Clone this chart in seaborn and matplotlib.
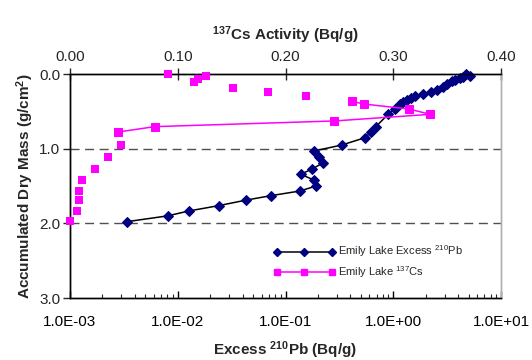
import numpy as np
import pandas as pd
import matplotlib
matplotlib.use("Agg")
import matplotlib.pyplot as plt
import seaborn as sns
from matplotlib.lines import Line2D
from matplotlib.ticker import FixedLocator, FuncFormatter, LogLocator, NullFormatter

# ---- data ----
pb_depth = [0.0, 0.027, 0.036, 0.058, 0.080, 0.098, 0.138, 0.174, 0.214, 0.241,
            0.268, 0.298, 0.317, 0.344, 0.370, 0.405, 0.464, 0.539, 0.706, 0.777,
            0.853, 0.951, 1.031, 1.107, 1.188, 1.272, 1.343, 1.42, 1.5, 1.567,
            1.63, 1.69, 1.763, 1.835, 1.90, 1.978]
pb_excess = [4.73, 5.15, 4.47, 4.16, 3.72, 3.51, 3.18, 2.92, 2.56, 2.23,
             1.875, 1.59, 1.45, 1.33, 1.24, 1.156, 1.03, 0.90, 0.687, 0.622,
             0.547, 0.333, 0.184, 0.205, 0.224, 0.177, 0.138, 0.184, 0.192, 0.136,
             0.0728, 0.0427, 0.024, 0.0126, 0.00807, 0.00336]

# 137Cs: connected run and isolated samples (gaps in the series)
cs_run_depth = [0.366, 0.402, 0.469, 0.54, 0.629, 0.705, 0.777]
cs_run_act = [0.262, 0.2726, 0.3146, 0.3344, 0.2453, 0.0786, 0.0445]
cs_iso_depth = [0.004, 0.027, 0.063, 0.107, 0.183, 0.237, 0.299,
                0.955, 1.11, 1.268, 1.415, 1.567, 1.69, 1.839, 1.973]
cs_iso_act = [0.0912, 0.1262, 0.1185, 0.1154, 0.151, 0.184, 0.219,
              0.047, 0.0356, 0.0229, 0.0111, 0.0087, 0.0081, 0.0062, 0.0]

pb_label = r"Emily Lake Excess $^{\mathregular{210}}$Pb"
cs_label = r"Emily Lake $^{\mathregular{137}}$Cs"

sns.set_style("white")
plt.rcParams['font.family'] = ['Liberation Sans', 'DejaVu Sans']
plt.rcParams['mathtext.default'] = 'regular'

NAVY = '#000080'
MAG = '#FF00FF'

fig = plt.figure(figsize=(5.32, 3.6), dpi=100)
ax = fig.add_axes([70/532, 1-298/360, 431/532, 224/360])
ax.set_xscale('log')
ax.set_xlim(1e-3, 10)
ax.set_ylim(3.0, 0.0)

# dashed reference lines
for yv in [1.0, 2.0]:
    ax.axhline(yv, color='#505050', lw=1.0, dashes=(6.5, 4), zorder=1)

pb_df = pd.DataFrame({'x': pb_excess, 'y': pb_depth})
sns.lineplot(data=pb_df, x='x', y='y', sort=False, estimator=None, ax=ax,
             color='black', lw=1.1, marker='D', markersize=5,
             markerfacecolor=NAVY, markeredgecolor=NAVY, legend=False,
             clip_on=False, zorder=4)

ax2 = ax.twiny()
ax2.set_xlim(0, 0.4)
cs_run = pd.DataFrame({'x': cs_run_act, 'y': cs_run_depth})
cs_iso = pd.DataFrame({'x': cs_iso_act, 'y': cs_iso_depth})
sns.lineplot(data=cs_run, x='x', y='y', sort=False, estimator=None, ax=ax2,
             color=MAG, lw=1.1, marker='s', markersize=5.2,
             markerfacecolor=MAG, markeredgecolor=MAG, legend=False,
             clip_on=False, zorder=3)
sns.scatterplot(data=cs_iso, x='x', y='y', ax=ax2, marker='s', s=27,
                color=MAG, edgecolor=MAG, linewidth=0, legend=False,
                clip_on=False, zorder=3)
ax2.set_ylim(3.0, 0.0)

# ---- axes styling ----
fs = 11
ax.set_yticks([0.0, 1.0, 2.0, 3.0])
ax.yaxis.set_major_formatter(FuncFormatter(lambda v, p: f"{v:.1f}"))
ax.xaxis.set_major_locator(FixedLocator([1e-3, 1e-2, 1e-1, 1e0, 1e1]))
ax.xaxis.set_major_formatter(FuncFormatter(lambda v, p: f"{v:.1E}"))
ax.xaxis.set_minor_locator(LogLocator(base=10, subs=np.arange(2, 10)))
ax.xaxis.set_minor_formatter(NullFormatter())
ax.tick_params(axis='x', which='major', direction='in', length=5, width=1,
               labelsize=fs, pad=12, colors='black', bottom=True, top=False)
ax.tick_params(axis='x', which='minor', direction='in', length=3, width=0.8,
               bottom=True, top=False)
ax.tick_params(axis='y', which='major', direction='out', length=5, width=1,
               labelsize=fs, pad=2, left=True)

ax2.set_xticks([0.0, 0.1, 0.2, 0.3, 0.4])
ax2.xaxis.set_major_formatter(FuncFormatter(lambda v, p: f"{v:.2f}"))
ax2.tick_params(axis='x', which='major', direction='inout', length=9, width=1,
                labelsize=fs, pad=3, top=True)
ax2.set_xlabel("")
ax2.set_ylabel("")

for a in (ax, ax2):
    for s in ['left', 'bottom', 'top']:
        a.spines[s].set_color('black')
        a.spines[s].set_linewidth(1.0)
    a.spines['right'].set_color('#b0b0b0')
    a.spines['right'].set_linewidth(1.0)

ax.set_xlabel(r"Excess $^{\mathregular{210}}$Pb (Bq/g)", fontsize=11, fontweight='bold', labelpad=8)
ax.set_ylabel(r"Accumulated Dry Mass (g/cm$^{\mathregular{2}}$)", fontsize=11, fontweight='bold', labelpad=2)
ax2.set_xlabel(r"$^{\mathregular{137}}$Cs Activity (Bq/g)", fontsize=11, fontweight='bold', labelpad=7)

# legend
h1 = Line2D([], [], color='black', lw=1.1, marker='D', markersize=4,
            markerfacecolor=NAVY, markeredgecolor=NAVY)
h2 = Line2D([], [], color=MAG, lw=1.1, marker='s', markersize=4,
            markerfacecolor=MAG, markeredgecolor=MAG)
leg = ax2.legend([h1, h2], [pb_label, cs_label], loc='center left',
                 bbox_to_anchor=((266 - 70) / 431, (298 - 261.7) / 224),
                 frameon=False, fontsize=8, numpoints=3, handlelength=5.5,
                 handletextpad=0.3, labelspacing=0.4, borderpad=0.2)

fig.savefig('out.png', dpi=100)
